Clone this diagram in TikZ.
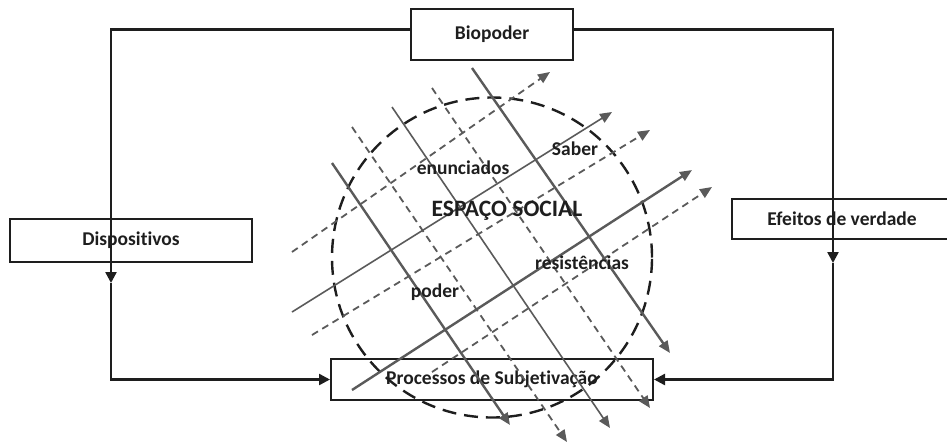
\documentclass[tikz,border=0pt]{standalone}
\usepackage{fontspec}
\setmainfont{Carlito}[Ligatures={NoCommon}, RawFeature={-liga;-dlig}]
\usetikzlibrary{positioning,arrows.meta}
\definecolor{inkblack}{RGB}{30,30,30}
\definecolor{raygray}{RGB}{90,90,90}

\begin{document}
\begin{tikzpicture}[%
        x=1pt, y=-1pt,
        >={Triangle[length=11pt,width=11pt]},
        node distance=297pt,
        box/.style={%
          rectangle,
          draw=inkblack,
          line width=2pt,
          inner sep=0pt,
          text=inkblack,
          font=\fontsize{19.5}{22}\selectfont\bfseries
        },
        fieldtext/.style={inner sep=0pt, text=inkblack,
          font=\fontsize{19.5}{22}\selectfont\bfseries},
        loopline/.style={->, draw=inkblack, line width=2.4pt},
        thickray/.style={-{Triangle[length=12pt,width=10pt]}, draw=raygray, line width=2.4pt},
        thinray/.style={-{Triangle[length=12pt,width=10pt]}, draw=raygray, line width=1.6pt},
        dashray/.style={-{Triangle[length=12pt,width=10pt]}, draw=raygray, line width=1.8pt,
          dash pattern=on 7pt off 5pt}
      ]
      \useasboundingbox (0,0) rectangle (947,445);

      % boxes
      \node[box, minimum width=162pt, minimum height=51pt] (bio) at (492,34.5) {Biopoder};
      \node[box, minimum width=322pt, minimum height=41pt, below=of bio] (proc) {Processos de Subjetivação};
      \node[box, minimum width=242pt, minimum height=43pt] (disp) at (131,240.5) {Dispositivos};
      \node[box, minimum width=220pt, minimum height=40pt] (efe) at (842,219) {Efeitos de verdade};

      % social space
      \draw[inkblack, line width=2.4pt, dash pattern=on 14pt off 8pt] (492,257.5) circle[radius=160pt];

      % down-right rays
      \draw[thickray] (472,68) -- (670,353);
      \draw[thinray] (392,107) -- (610,428);
      \draw[thickray] (332,163) -- (510,425);
      \draw[dashray] (352,127) -- (567,442);
      \draw[dashray] (432,88) -- (650,408);
      % up-right rays
      \draw[thinray] (292,312) -- (612,112);
      \draw[thickray] (352,390) -- (692,170);
      \draw[dashray] (292,252) -- (550,72);
      \draw[dashray] (312,335) -- (650,130);
      \draw[dashray] (432,372) -- (712,187);

      % loop
      \coordinate (ldown) at (111,283);
      \coordinate (rdown) at (833,263);
      \draw[loopline] ([yshift=5pt]bio.west) -| (ldown);
      \draw[loopline] (ldown) |- (proc.west);
      \draw[loopline] ([yshift=5pt]bio.east) -| (rdown);
      \draw[loopline] (rdown) |- (proc.east);

      \node[fieldtext, font=\fontsize{23.5}{26}\selectfont\bfseries] (esp) at (507,211) {ESPAÇO SOCIAL};
      \node[fieldtext] (sab) at (575,149) {Saber};
      \node[fieldtext] (enu) at (463,168) {enunciados};
      \node[fieldtext] (res) at (582,263) {resistências};
      \node[fieldtext] (pod) at (435,292) {poder};
    \end{tikzpicture}
\end{document}
